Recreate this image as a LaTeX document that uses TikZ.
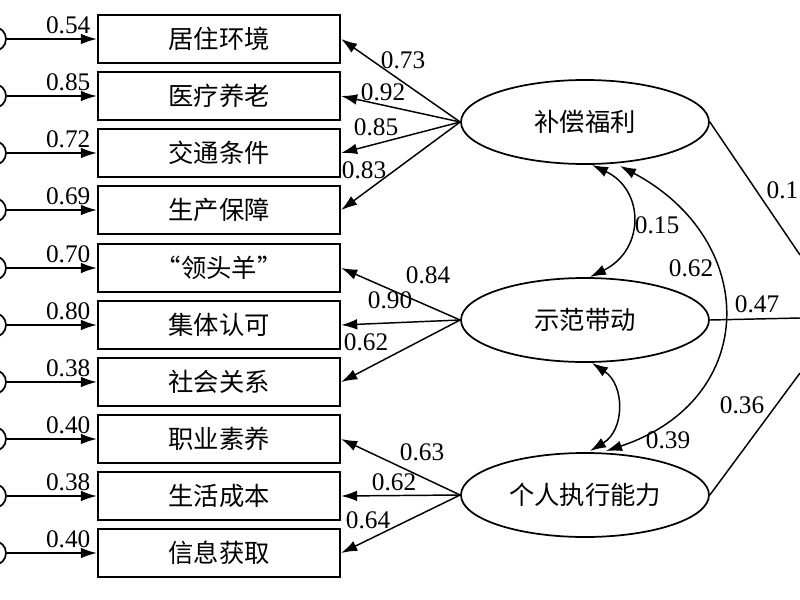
\documentclass[tikz,border=0pt]{standalone}
\usepackage{fontspec}
\setmainfont{Liberation Serif}
\newfontfamily\cjk{Noto Sans CJK SC}
\usetikzlibrary{arrows.meta,positioning,shapes.geometric}
\begin{document}
\begin{tikzpicture}[x=0.75pt,y=-0.75pt,
        item/.style={rectangle, draw, line width=1.3pt, minimum width=182pt, minimum height=36pt, font=\cjk\fontsize{19}{22}\selectfont},
        factor/.style={ellipse, draw, line width=1.3pt, minimum width=186pt, minimum height=63pt, font=\cjk\fontsize{19}{22}\selectfont},
        err/.style={circle, draw, line width=1.3pt, minimum size=18pt, inner sep=0pt},
        coef/.style={font=\fontsize{19}{22}\selectfont, inner sep=1pt},
        arrow/.style={line width=1.1pt,-{Latex[length=12pt,width=8pt]}},
        twoway/.style={line width=1.1pt,{Latex[length=12pt,width=8pt]}-{Latex[length=12pt,width=8pt]}}
    ]
        \useasboundingbox (0,0) rectangle (800,600);
        % Observed items
        \foreach \name/\txt/\yy/\ev in {i1/居住环境/39/0.54, i2/医疗养老/96/0.85, i3/交通条件/153/0.72, i4/生产保障/210/0.69,
            i5/“领头羊”/268/0.70, i6/集体认可/325/0.80, i7/社会关系/382/0.38, i8/职业素养/439/0.40,
            i9/生活成本/496/0.38, i10/信息获取/553/0.40} {
            \node[item] (\name) at (219,\yy) {\txt};
            \node[err] (e\name) at (-6,\yy) {};
            \draw[arrow] (e\name) -- (\name);
            \node[coef, anchor=south east] at (92,\yy-4) {\ev};
        }
        
        % Latent factors
        \node[factor] (comp) at (585,122) {补偿福利};
        \node[factor] (demo) at (585,320) {示范带动};
        \node[factor] (exec) at (585,495) {个人执行能力};
        
        % Loadings
        \draw[arrow] (comp.west) -- (i1.east);
        \draw[arrow] (comp.west) -- (i2.east);
        \draw[arrow] (comp.west) -- (i3.east);
        \draw[arrow] (comp.west) -- (i4.east);
        \draw[arrow] (demo.west) -- (i5.east);
        \draw[arrow] (demo.west) -- (i6.east);
        \draw[arrow] (demo.west) -- (i7.east);
        \draw[arrow] (exec.west) -- (i8.east);
        \draw[arrow] (exec.west) -- (i9.east);
        \draw[arrow] (exec.west) -- (i10.east);
        \node[coef] at (403,60) {0.73};
        \node[coef] at (383,92) {0.92};
        \node[coef] at (376,127) {0.85};
        \node[coef] at (364,170) {0.83};
        \node[coef] at (428,275) {0.84};
        \node[coef] at (390,300) {0.90};
        \node[coef] at (366,342) {0.62};
        \node[coef] at (422,452) {0.63};
        \node[coef] at (394,482) {0.62};
        \node[coef] at (368,520) {0.64};
        
        % Covariances
        \coordinate (c1) at (592,165);
        \coordinate (c2) at (590,277);
        \coordinate (c3) at (620,166);
        \coordinate (c4) at (606,451);
        \coordinate (c5) at (592,363);
        \coordinate (c6) at (590,451);
        \draw[twoway] (c1) .. controls (645,190) and (645,250) .. (c2);
        \draw[twoway] (c3) .. controls (760,240) and (760,400) .. (c4);
        \draw[twoway] (c5) .. controls (625,385) and (625,430) .. (c6);
        \node[coef] at (657,225) {0.15};
        \node[coef] at (691,268) {0.62};
        \node[coef] at (668,440) {0.39};
        
        % Paths to the right
        \coordinate (r1) at (800,255);
        \coordinate (r2) at (800,318);
        \coordinate (r3) at (800,373);
        \draw[line width=1.1pt] (comp.east) -- (r1);
        \draw[line width=1.1pt] (demo.east) -- (r2);
        \draw[line width=1.1pt] (exec.east) -- (r3);
        \node[coef, anchor=west] at (765,190) {0.1};
        \node[coef] at (757,304) {0.47};
        \node[coef] at (742,405) {0.36};
\end{tikzpicture}
\end{document}
